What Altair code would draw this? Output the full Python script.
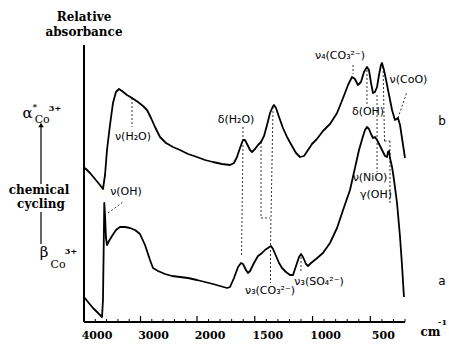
import altair as alt
import pandas as pd

# ---- spectrum b (alpha*-Co3+), wavenumber (cm-1) / relative absorbance
b_wn = [3982, 3894, 3805, 3717, 3664, 3628, 3593, 3540, 3487, 3434, 3381, 3327, 3239, 3150,
        3044, 2956, 2885, 2814, 2743, 2655, 2549, 2425, 2301, 2159, 2000, 1931, 1862, 1784,
        1714, 1680, 1654, 1628, 1602, 1585, 1567, 1541, 1524, 1498, 1472, 1446, 1420, 1394,
        1368, 1342, 1334, 1316, 1290, 1256, 1221, 1178, 1143, 1109, 1074, 1039, 1005, 962,
        910, 849, 788, 736, 693, 659, 633, 607, 581, 555, 529, 512, 494, 477, 460, 442, 425,
        408, 399, 382, 364, 338, 312, 287, 261, 243, 226, 200]
b_abs = [1.54, 1.49, 1.43, 1.37, 1.33, 1.47, 1.72, 1.97, 2.19, 2.30, 2.33, 2.31, 2.27, 2.24,
         2.20, 2.16, 2.12, 2.04, 1.95, 1.85, 1.79, 1.75, 1.72, 1.68, 1.65, 1.62, 1.60, 1.58,
         1.57, 1.59, 1.65, 1.74, 1.82, 1.82, 1.78, 1.72, 1.70, 1.73, 1.77, 1.80, 1.86, 1.97,
         2.09, 2.16, 2.17, 2.14, 2.05, 1.94, 1.85, 1.76, 1.69, 1.65, 1.66, 1.72, 1.78, 1.83,
         1.91, 1.98, 2.09, 2.24, 2.37, 2.45, 2.43, 2.37, 2.40, 2.50, 2.55, 2.52, 2.39, 2.29,
         2.30, 2.35, 2.47, 2.57, 2.59, 2.52, 2.42, 2.27, 2.12, 2.02, 2.04, 1.97, 1.84, 1.64]

# ---- spectrum a (beta-Co3+)
a_wn = [4000, 3929, 3841, 3752, 3681, 3664, 3652, 3641, 3628, 3611, 3593, 3558, 3504, 3434,
        3363, 3274, 3186, 3097, 3009, 2920, 2832, 2779, 2690, 2566, 2442, 2301, 2159, 2000,
        1931, 1862, 1801, 1740, 1714, 1680, 1645, 1619, 1602, 1576, 1559, 1541, 1507, 1472,
        1437, 1412, 1386, 1360, 1342, 1316, 1290, 1264, 1230, 1195, 1169, 1143, 1117, 1100,
        1083, 1057, 1039, 1013, 970, 910, 849, 788, 736, 676, 633, 598, 563, 546, 529, 512,
        494, 477, 460, 442, 416, 390, 373, 356, 347, 338, 330, 312, 295, 269, 243, 226, 209]
a_abs = [0.25, 0.20, 0.14, 0.09, 0.05, 0.22, 0.72, 1.19, 1.07, 0.84, 0.77, 0.81, 0.86, 0.92,
         0.95, 0.95, 0.94, 0.92, 0.88, 0.77, 0.62, 0.54, 0.51, 0.48, 0.46, 0.45, 0.44, 0.42,
         0.40, 0.38, 0.36, 0.34, 0.35, 0.44, 0.55, 0.59, 0.58, 0.52, 0.49, 0.51, 0.59, 0.66,
         0.69, 0.72, 0.74, 0.76, 0.73, 0.66, 0.59, 0.54, 0.50, 0.47, 0.47, 0.56, 0.65, 0.68,
         0.65, 0.58, 0.56, 0.59, 0.63, 0.69, 0.79, 0.94, 1.12, 1.32, 1.54, 1.72, 1.86, 1.92,
         1.95, 1.93, 1.88, 1.84, 1.85, 1.82, 1.76, 1.70, 1.66, 1.65, 1.70, 1.71, 1.64, 1.55,
         1.42, 1.19, 0.85, 0.57, 0.25]

# ---- x axis ticks / labels
tick_labels = [4000, 3000, 2000, 1500, 1000, 500]
major_ticks = [3000, 2000, 1500, 1000, 500]
minor_ticks = [3800, 3600, 3400, 3200, 2800, 2600, 2400, 2200, 1900, 1800, 1700, 1600,
               1400, 1300, 1200, 1100, 900, 800, 700, 600, 400, 300, 200]

# ---- dashed assignment lines
seg_x1 = [3150, 1602, 1602, 1446, 1446, 1342, 1364, 1100, 3575, 650, 261, 529, 442, 390, 377, 330]
seg_y1 = [2.24, 1.95, 1.77, 1.80, 1.04, 2.15, 0.72, 0.65, 1.09, 2.57, 2.04, 2.52, 2.27, 2.55, 1.81, 1.81]
seg_x2 = [3150, 1602, 1615, 1446, 1368, 1364, 1364, 1100, 3310, 650, 183, 529, 442, 377, 330, 330]
seg_y2 = [1.95, 1.84, 0.65, 1.04, 1.04, 0.77, 0.39, 0.49, 1.20, 2.48, 2.30, 2.17, 1.50, 1.81, 1.81, 1.19]

# ---- band assignments
ann_text = ["ν(H₂O)", "δ(H₂O)", "ν(OH)", "ν₄(CO₃²⁻)", "ν(CoO)", "δ(OH)", "ν(NiO)", "γ(OH)",
            "ν₃(CO₃²⁻)", "ν₃(SO₄²⁻)"]
ann_wn = [3133, 1662, 3257, 762, 170, 520, 503, 451, 1368, 944]
ann_abs = [1.85, 2.02, 1.30, 2.66, 2.42, 2.10, 1.44, 1.27, 0.31, 0.40]

# ---- titles
title_text = ["Relative", "absorbance", "cm"]
title_wn = [4000, 4000, -20]
title_abs = [3.05, 2.90, -0.10]
unit_sup_text = ["-1"]
unit_sup_wn = [-125]
unit_sup_abs = [-0.01]

# ---- left side labels
side_text = ["chemical", "cycling"]
side_wn = [4797, 4761]
side_abs = [1.32, 1.18]
greek_text = ["α", "β"]
greek_wn = [5000, 4708]
greek_abs = [2.09, 0.70]
co_text = ["Co", "Co"]
co_wn = [4740, 4460]
co_abs = [2.02, 0.57]
sup_text = ["*", "3+", "3+"]
sup_wn = [4870, 4513, 4230]
sup_abs = [2.15, 2.13, 0.70]
arrow_x1 = [4761, 4761]
arrow_y1 = [1.95, 1.10]
arrow_y2 = [1.38, 0.78]
arrow_head_wn = [4761]
arrow_head_abs = [1.97]

curve_text = ["b", "a"]
curve_wn = [-120, -120]
curve_abs = [2.01, 0.41]

# ---------------------------------------------------------------
curves = pd.concat([
    pd.DataFrame({"wn": b_wn, "A": b_abs, "s": "b"}),
    pd.DataFrame({"wn": a_wn, "A": a_abs, "s": "a"}),
])
segs = pd.DataFrame({"x1": seg_x1, "y1": seg_y1, "x2": seg_x2, "y2": seg_y2})
ann = pd.DataFrame({"t": ann_text, "wn": ann_wn, "A": ann_abs})
titles = pd.DataFrame({"t": title_text, "wn": title_wn, "A": title_abs})
usup = pd.DataFrame({"t": unit_sup_text, "wn": unit_sup_wn, "A": unit_sup_abs})
side = pd.DataFrame({"t": side_text, "wn": side_wn, "A": side_abs})
greek = pd.DataFrame({"t": greek_text, "wn": greek_wn, "A": greek_abs})
co = pd.DataFrame({"t": co_text, "wn": co_wn, "A": co_abs})
sup = pd.DataFrame({"t": sup_text, "wn": sup_wn, "A": sup_abs})
arrow = pd.DataFrame({"x": arrow_x1, "y1": arrow_y1, "y2": arrow_y2})
head = pd.DataFrame({"wn": arrow_head_wn, "A": arrow_head_abs})
clab = pd.DataFrame({"t": curve_text, "wn": curve_wn, "A": curve_abs})
majors = pd.DataFrame({"wn": major_ticks})
minors = pd.DataFrame({"wn": minor_ticks})
tlabs = pd.DataFrame({"wn": tick_labels, "t": [str(v) for v in tick_labels]})

W, H = 321, 277
xscale = alt.Scale(domain=[4000, 2000, 200], range=[0, 113, W])
yscale = alt.Scale(domain=[0, 2.77], nice=False, zero=False)

SERIF = "DejaVu Serif"
SANS = "DejaVu Sans"

base_line = alt.Chart(curves).mark_line(color="black", strokeWidth=1.8, strokeJoin="round").encode(
    x=alt.X("wn:Q", scale=xscale, axis=None),
    y=alt.Y("A:Q", scale=yscale, axis=None),
    detail="s:N",
)

# axis lines (x axis along the bottom, relative-absorbance axis at 4000 cm-1)
x_axis_line = alt.Chart(majors).mark_rule(color="black", strokeWidth=1.5).encode(
    x=alt.value(0), x2=alt.value(W), y=alt.value(H))
y_axis_line = alt.Chart(majors).mark_rule(color="black", strokeWidth=1.5).encode(
    x=alt.value(0), y=alt.value(0), y2=alt.value(H))

dashes = alt.Chart(segs).mark_rule(color="black", strokeWidth=0.8, strokeDash=[2, 2]).encode(
    x=alt.X("x1:Q", scale=xscale, axis=None), x2="x2:Q",
    y=alt.Y("y1:Q", scale=yscale, axis=None), y2="y2:Q",
)

minor_rules = alt.Chart(minors).mark_rule(color="black", strokeWidth=1).encode(
    x=alt.X("wn:Q", scale=xscale, axis=None), y=alt.value(H), y2=alt.value(H - 3))
major_rules = alt.Chart(majors).mark_rule(color="black", strokeWidth=1.2).encode(
    x=alt.X("wn:Q", scale=xscale, axis=None), y=alt.value(H), y2=alt.value(H - 6))

tick_text = alt.Chart(tlabs).mark_text(font=SERIF, fontSize=11, fontWeight="bold", color="black",
                                       align="center", baseline="middle", dx=13).encode(
    x=alt.X("wn:Q", scale=xscale, axis=None), y=alt.value(H + 14), text="t:N")


def txt(df, font, size, weight="normal", style="normal"):
    return alt.Chart(df).mark_text(font=font, fontSize=size, fontWeight=weight, fontStyle=style,
                                   color="black", align="center", baseline="middle").encode(
        x=alt.X("wn:Q", scale=xscale, axis=None),
        y=alt.Y("A:Q", scale=yscale, axis=None),
        text="t:N",
    )


ann_layer = txt(ann, SANS, 11)
title_layer = txt(titles, SERIF, 12, "bold")
usup_layer = txt(usup, SERIF, 8, "bold")
side_layer = txt(side, SERIF, 12, "bold")
greek_layer = txt(greek, SERIF, 15)
co_layer = txt(co, SERIF, 11)
sup_layer = txt(sup, SERIF, 8, "bold")
clab_layer = txt(clab, SANS, 12)

arrow_rules = alt.Chart(arrow).mark_rule(color="black", strokeWidth=1.2).encode(
    x=alt.X("x:Q", scale=xscale, axis=None),
    y=alt.Y("y1:Q", scale=yscale, axis=None), y2="y2:Q")
arrow_head = alt.Chart(head).mark_point(shape="triangle-up", filled=True, color="black",
                                        size=30, opacity=1).encode(
    x=alt.X("wn:Q", scale=xscale, axis=None),
    y=alt.Y("A:Q", scale=yscale, axis=None))

chart = alt.layer(
    base_line, x_axis_line, y_axis_line, dashes, minor_rules, major_rules, tick_text,
    ann_layer, title_layer, usup_layer, side_layer, greek_layer,
    co_layer, sup_layer, clab_layer, arrow_rules, arrow_head,
).properties(
    width=W, height=H,
    autosize=alt.AutoSizeParams(type="none"),
    padding={"left": 84, "top": 45, "right": 44, "bottom": 24},
    background="white",
).configure_view(stroke=None)

chart.save("out.html", embed_options={"renderer": "svg", "actions": False})
